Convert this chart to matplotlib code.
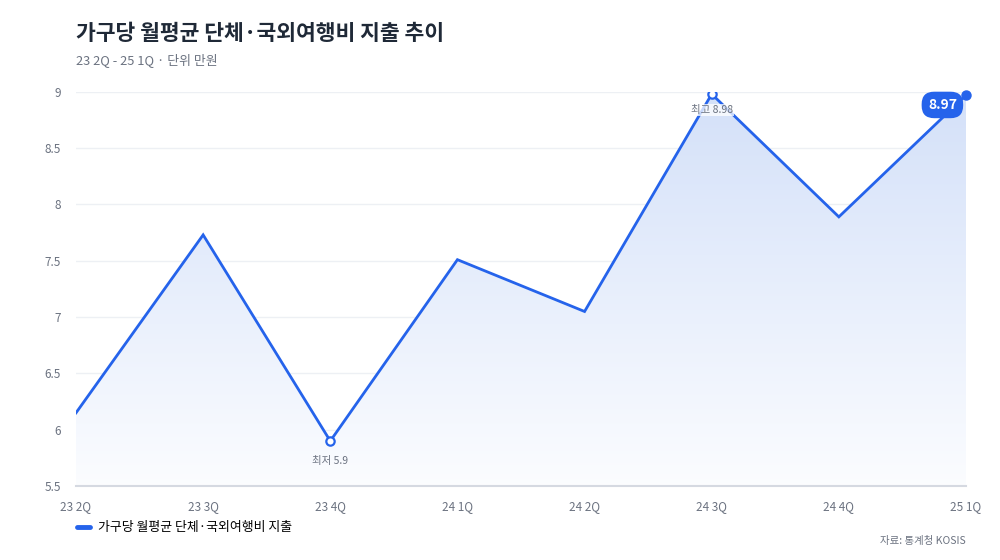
import numpy as np
import matplotlib.pyplot as plt
from matplotlib.patches import Polygon

plt.rcParams['font.family'] = ['Noto Sans CJK KR', 'DejaVu Sans']

# 데이터
quarters = ['23 2Q', '23 3Q', '23 4Q', '24 1Q', '24 2Q', '24 3Q', '24 4Q', '25 1Q']
values = [6.15, 7.73, 5.9, 7.51, 7.05, 8.98, 7.89, 8.97]
yticks = [5.5, 6, 6.5, 7, 7.5, 8, 8.5, 9]
ytick_labels = ['5.5', '6', '6.5', '7', '7.5', '8', '8.5', '9']

blue = '#2563eb'
gray = '#6b7280'

fig = plt.figure(figsize=(10, 5.6), dpi=100)
ax = fig.add_axes([0.076, 0.132, 0.89, 0.704])

x = np.arange(len(quarters))
ax.set_xlim(0, len(quarters) - 1)
ax.set_ylim(5.5, 9)

# 그라데이션 채우기
verts = [(0, 5.5)] + list(zip(x, values)) + [(x[-1], 5.5)]
poly = Polygon(verts, closed=True, facecolor='none', edgecolor='none')
ax.add_patch(poly)
grad = np.linspace(0, 1, 256).reshape(-1, 1)
top_c = np.array([0.83, 0.88, 0.975])
bot_c = np.array([0.985, 0.99, 1.0])
img = (bot_c + (top_c - bot_c) * grad[..., None]).reshape(256, 1, 3)
im = ax.imshow(img, extent=[0, x[-1], 5.5, 9], origin='lower', aspect='auto', zorder=1)
im.set_clip_path(poly)

ax.plot(x, values, color=blue, lw=2.0, zorder=3, solid_joinstyle='miter',
        label='가구당 월평균 단체·국외여행비 지출')

# 최저 / 최고 표시
i_min = int(np.argmin(values))
i_max = int(np.argmax(values))
for i in (i_min, i_max):
    ax.plot(x[i], values[i], 'o', ms=6, mfc='white', mec=blue, mew=1.6, zorder=4)
ax.annotate(f'최저 {values[i_min]}', (x[i_min], values[i_min]), xytext=(0, -11),
            textcoords='offset points', ha='center', va='top', fontsize=7.5, color=gray)
ax.annotate(f'최고 {values[i_max]}', (x[i_max], values[i_max]), xytext=(0, -8),
            textcoords='offset points', ha='center', va='top', fontsize=7.5, color=gray,
            zorder=5, bbox=dict(boxstyle='square,pad=0.1', fc='white', ec='none', alpha=0.75))

# 마지막 값
ax.plot(x[-1], values[-1], 'o', ms=6.5, color=blue, zorder=5, clip_on=False)
ax.annotate(f'{values[-1]}', (x[-1], values[-1]), xytext=(-17, -7),
            textcoords='offset points', ha='center', va='center', fontsize=10,
            fontweight='bold', color='white', zorder=6,
            bbox=dict(boxstyle='round,pad=0.45,rounding_size=0.9', fc=blue, ec='none'))

ax.set_xticks(x)
ax.set_xticklabels(quarters)
ax.set_yticks(yticks)
ax.set_yticklabels(ytick_labels)
ax.tick_params(axis='both', length=0, labelsize=8.5, labelcolor=gray)
ax.tick_params(axis='x', pad=10)
ax.tick_params(axis='y', pad=11)
ax.grid(axis='y', color='#edf0f4', lw=1, zorder=0)
ax.set_axisbelow(True)
for s in ['top', 'right', 'left']:
    ax.spines[s].set_visible(False)
ax.spines['bottom'].set_color('#d5d9e1')
ax.spines['bottom'].set_linewidth(1.5)

fig.text(0.076, 0.94, '가구당 월평균 단체·국외여행비 지출 추이', fontsize=15.5, fontweight='bold',
         color='#1f2937', va='center')
fig.text(0.076, 0.893, '23 2Q - 25 1Q · 단위 만원', fontsize=9.3, color=gray, va='center')

leg = ax.legend(loc='upper left', bbox_to_anchor=(-0.012, -0.06), frameon=False,
                fontsize=9.3, handlelength=1.0, handletextpad=0.6)
for line in leg.get_lines():
    line.set_linewidth(3.5)
    line.set_solid_capstyle('round')

fig.text(0.966, 0.034, '자료: 통계청 KOSIS', fontsize=7.5, color=gray, ha='right', va='center')

fig.savefig('out.png', dpi=100)
